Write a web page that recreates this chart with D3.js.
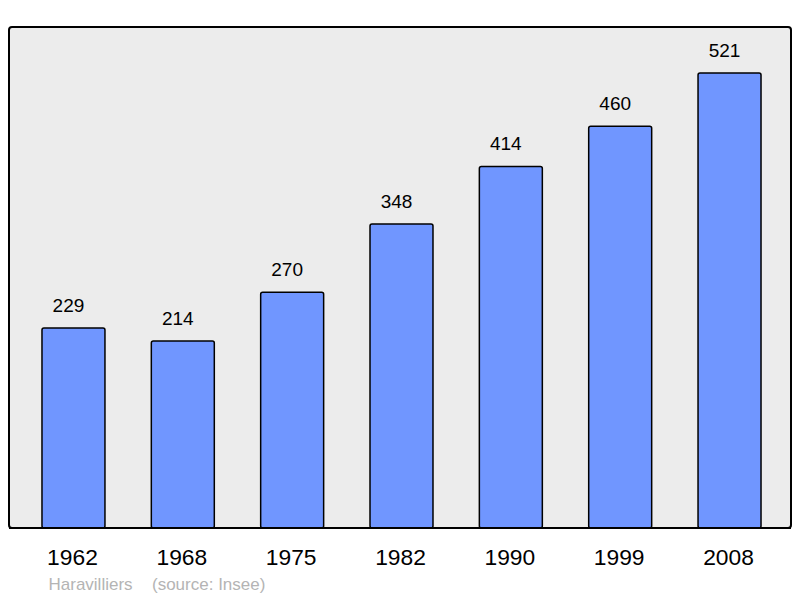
<!DOCTYPE html>
<html><head><meta charset="utf-8">
<script src="https://cdn.jsdelivr.net/npm/d3@7"></script>
<style>body{margin:0;background:#fff}svg{display:block}</style>
</head><body>
<script>
const years = ["1962","1968","1975","1982","1990","1999","2008"];
const population = [229,214,270,348,414,460,521];
const commune = "Haravilliers";
const source = "(source: Insee)";

const W=800,H=598;
const FONT="Liberation Sans, Arial, sans-serif";
const svg=d3.select("body").append("svg").attr("width",W).attr("height",H);
const px0=9, px1=791, py0=27, py1=528;
svg.append("rect").attr("x",px0).attr("y",py0).attr("width",px1-px0).attr("height",py1-py0)
  .attr("rx",3).attr("fill","#ececec").attr("stroke","#000").attr("stroke-width",2);

const x=d3.scaleBand().domain(years).range([18.8,784.2]).paddingInner(0.424).paddingOuter(0.212);
const y=d3.scaleLinear().domain([0,521]).range([py1,73]);

const g=svg.append("g");
g.selectAll("rect.bar").data(population).join("rect").attr("class","bar")
  .attr("x",(d,i)=>x(years[i])).attr("width",x.bandwidth())
  .attr("y",d=>y(d)).attr("height",d=>py1-y(d))
  .attr("rx",2)
  .attr("fill","#7096ff").attr("stroke","#000").attr("stroke-width",1.5);

g.selectAll("text.val").data(population).join("text").attr("class","val")
  .attr("x",(d,i)=>x(years[i])+x.bandwidth()/2-5).attr("y",d=>y(d)-16.3)
  .attr("text-anchor","middle").attr("font-family",FONT)
  .attr("font-size",19).attr("fill","#000").text(d=>d);

svg.append("line").attr("x1",px0).attr("x2",px1).attr("y1",py1).attr("y2",py1).attr("stroke","#000").attr("stroke-width",2);

const ax=d3.axisBottom(x).tickSize(0).tickPadding(0);
const axg=svg.append("g").attr("transform",`translate(-1,${py1})`).call(ax);
axg.select(".domain").remove();
axg.selectAll("text").attr("font-family",FONT).attr("font-size",22.8)
  .attr("fill","#000").attr("dy",null).attr("y",37);

svg.append("text").attr("x",48.5).attr("y",590).attr("font-family",FONT)
  .attr("font-size",17).attr("fill","#b4b4b4").text(commune);
svg.append("text").attr("x",152).attr("y",590).attr("font-family",FONT)
  .attr("font-size",17).attr("fill","#b4b4b4").text(source);
</script>
</body></html>
